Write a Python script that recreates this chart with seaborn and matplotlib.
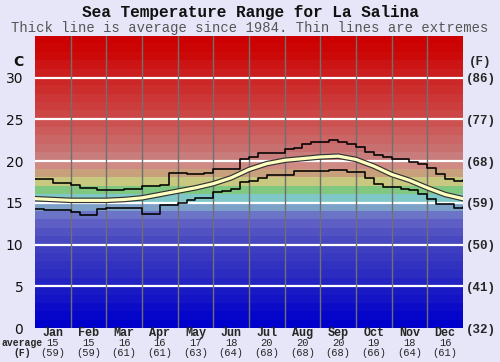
import matplotlib
matplotlib.use("Agg")
import matplotlib.pyplot as plt
import matplotlib.patheffects as pe
import matplotlib.transforms as mtransforms
import numpy as np
import seaborn as sns

# Dados (temperatura em °C, 4 amostras por mês)
months = ['Jan', 'Feb', 'Mar', 'Apr', 'May', 'Jun',
          'Jul', 'Aug', 'Sep', 'Oct', 'Nov', 'Dec']
avg_c = [15, 15, 16, 16, 17, 18, 20, 20, 20, 19, 18, 16]
avg_f = [59, 59, 61, 61, 63, 64, 68, 68, 68, 66, 64, 61]

max_temp = [17.9, 17.9, 17.4, 17.4, 17.1, 16.8, 16.8, 16.5, 16.5, 16.6, 16.7, 16.7,
            17.0, 17.0, 17.1, 18.6, 18.6, 18.5, 18.5, 18.6, 19.0, 19.0, 19.1, 20.2,
            20.5, 21.0, 21.0, 21.0, 21.5, 21.6, 22.0, 22.3, 22.3, 22.5, 22.3, 22.0,
            21.7, 21.1, 20.7, 20.5, 20.3, 20.2, 19.9, 19.6, 19.2, 18.5, 17.9, 17.6, 17.7]
min_temp = [14.3, 14.1, 14.1, 14.1, 13.9, 13.6, 13.6, 14.3, 14.4, 14.4, 14.4, 14.4,
            13.7, 13.7, 14.7, 14.7, 15.0, 15.3, 15.6, 15.6, 16.3, 16.4, 16.7, 17.5,
            17.6, 18.0, 18.3, 18.3, 18.3, 18.8, 18.8, 18.8, 18.8, 18.9, 18.9, 18.7,
            18.7, 18.0, 17.2, 16.9, 16.9, 16.7, 16.6, 16.1, 15.5, 14.9, 14.9, 14.4, 14.5]
# média (2 amostras por mês)
avg_temp = [15.5, 15.4, 15.3, 15.3, 15.3, 15.4, 15.6, 16.0, 16.4, 16.8, 17.3, 18.0,
            19.0, 19.7, 20.1, 20.3, 20.5, 20.6, 20.2, 19.4, 18.4, 17.7, 16.8, 16.0, 15.5]

x_step = np.linspace(0, 12, len(max_temp))
x_avg = np.linspace(0, 12, len(avg_temp))

# Faixas de cor de fundo (uma por grau, de 0 a 35)
band_colors = ['#0000CC', '#0606CA', '#0C0CC8', '#1414C6', '#1A1AC4',
               '#2424C2', '#2C2CC0', '#3232C0', '#3838C0', '#3E3EC0',
               '#4848C0', '#5252C2', '#5E5EC4', '#6C74C8', '#7CA0C8',
               '#80C8C8', '#80C880', '#C8C880', '#C8A07C', '#D08A84',
               '#C87C7C', '#C87070', '#CA6666', '#CC5C5C', '#CC5252',
               '#CC4646', '#CC3E3E', '#CC3636', '#CC2E2E', '#CC2626',
               '#CC1E1E', '#CC1414', '#CC0A0A', '#CC0404', '#CC0000']
temp_ticks = [0, 5, 10, 15, 20, 25, 30]

sns.set_style('white')
bg = '#E6E6F8'
fig = plt.figure(figsize=(5, 3.62), dpi=100, facecolor=bg)
ax = fig.add_axes([0.07, 0.0939, 0.856, 0.8067])

rgb = np.array([matplotlib.colors.to_rgb(c) for c in band_colors])
ax.imshow(rgb[:, None, :], extent=[0, 12, 0, 35], aspect='auto',
          origin='lower', interpolation='nearest', zorder=0)

for t in temp_ticks[1:]:
    ax.axhline(t, color='white', lw=1.6, zorder=1)
for m in range(1, 12):
    ax.axvline(m, color='#707070', lw=1, zorder=1)

sns.lineplot(x=x_step, y=max_temp, drawstyle='steps-post', color='black',
             lw=1.15, ax=ax, zorder=3)
sns.lineplot(x=x_step, y=min_temp, drawstyle='steps-post', color='black',
             lw=1.15, ax=ax, zorder=3)
sns.lineplot(x=x_avg, y=avg_temp, color='#FFFFC0', lw=2.3, ax=ax, zorder=4,
             path_effects=[pe.Stroke(linewidth=4, foreground='#333333'), pe.Normal()])

ax.set_xlim(0, 12)
ax.set_ylim(0, 35)
for s in ax.spines.values():
    s.set_visible(False)
ax.set_xticks([])
ax.set_yticks(temp_ticks)
ax.set_yticklabels([str(t) for t in temp_ticks], fontsize=10, color='#111111')
ax.tick_params(axis='y', length=0, pad=8.5)

ax2 = ax.twinx()
ax2.set_ylim(0, 35)
for s in ax2.spines.values():
    s.set_visible(False)
ax2.set_yticks(temp_ticks)
ax2.set_yticklabels(['(%d)' % round(t * 9 / 5 + 32) for t in temp_ticks],
                    fontsize=9, fontfamily='Liberation Mono', fontweight='bold')
ax2.tick_params(axis='y', length=0, pad=2)

mono = 'Liberation Mono'
fig.text(0.5, 1 - 12 / 362, 'Sea Temperature Range for La Salina', ha='center', va='center',
         fontsize=11.6, fontfamily=mono, fontweight='bold', color='#111111')
fig.text(0.5, 1 - 28 / 362, 'Thick line is average since 1984. Thin lines are extremes',
         ha='center', va='center', fontsize=10, fontfamily=mono, color='#555555')
fig.text(18 / 500, 1 - 62 / 362, 'C', ha='center', va='center', fontsize=10,
         fontweight='bold', color='#111111')
fig.text(480 / 500, 1 - 62 / 362, '(F)', ha='center', va='center', fontsize=9,
         fontfamily=mono, fontweight='bold')

trans = mtransforms.blended_transform_factory(ax.transData, fig.transFigure)
for i, m in enumerate(months):
    ax.text(i + 0.5, 1 - 333 / 362, m, transform=trans, ha='center', va='center',
            fontsize=8.5, fontfamily=mono, fontweight='bold')
    ax.text(i + 0.5, 1 - 343 / 362, str(avg_c[i]), transform=trans, ha='center',
            va='center', fontsize=7.5, fontfamily=mono)
    ax.text(i + 0.5, 1 - 353 / 362, '(%d)' % avg_f[i], transform=trans, ha='center',
            va='center', fontsize=7.5, fontfamily=mono)
fig.text(22 / 500, 1 - 343 / 362, 'average', ha='center', va='center', fontsize=7,
         fontfamily=mono, fontweight='bold')
fig.text(22 / 500, 1 - 353 / 362, '(F)', ha='center', va='center', fontsize=7,
         fontfamily=mono, fontweight='bold')

fig.savefig('out.png', dpi=100, facecolor=bg)
